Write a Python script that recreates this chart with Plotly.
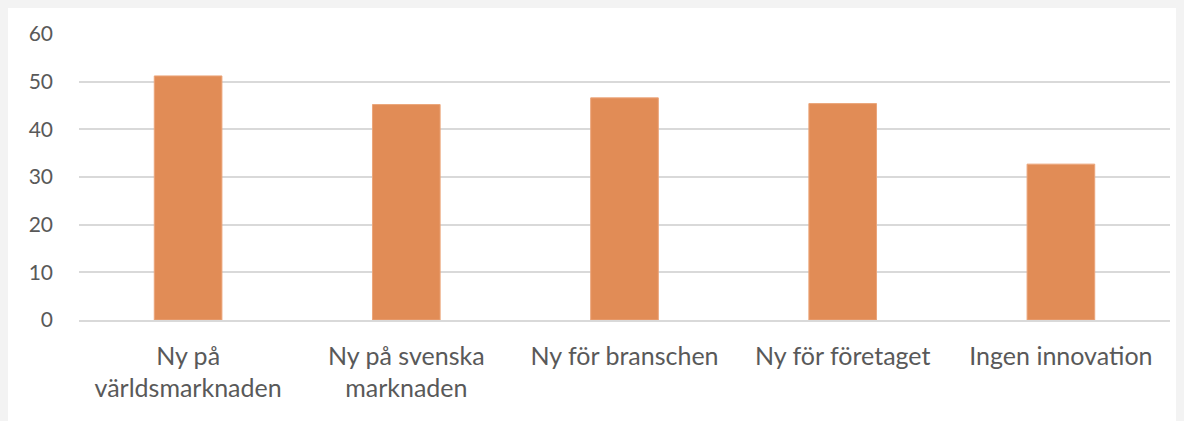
import plotly.graph_objects as go

categories = ["Ny på<br>världsmarknaden", "Ny på svenska<br>marknaden", "Ny för branschen",
              "Ny för företaget", "Ingen innovation"]
values = [51.2, 45.2, 46.6, 45.4, 32.7]
y_ticks = [0, 10, 20, 30, 40, 50, 60]

FONT = "Lato"
TXT = "#595959"

fig = go.Figure()
fig.add_trace(go.Bar(
    x=categories, y=values,
    marker=dict(color="#E18C56", line=dict(color="#EBA57A", width=1)),
    hoverinfo="skip",
))

fig.update_layout(
    width=1176, height=413,
    margin=dict(l=71, r=14, t=24, b=101),
    paper_bgcolor="white",
    plot_bgcolor="white",
    bargap=0.69,
    showlegend=False,
    font=dict(family=FONT, color=TXT),
)
fig.update_yaxes(
    range=[0, 60], tickvals=y_ticks, showgrid=True, gridcolor="#D9D9D9", gridwidth=1.5,
    zeroline=False, showline=False, ticks="", ticklabelstandoff=25,
    tickfont=dict(size=21, color=TXT, family=FONT), fixedrange=True,
)
fig.update_xaxes(
    showline=True, linecolor="#D9D9D9", linewidth=1.5, ticks="",
    tickfont=dict(size=25, color=TXT, family=FONT), ticklabelstandoff=13,
    fixedrange=True,
)

fig.write_html("out.html", post_script="document.body.style.background='#F3F3F3';")
